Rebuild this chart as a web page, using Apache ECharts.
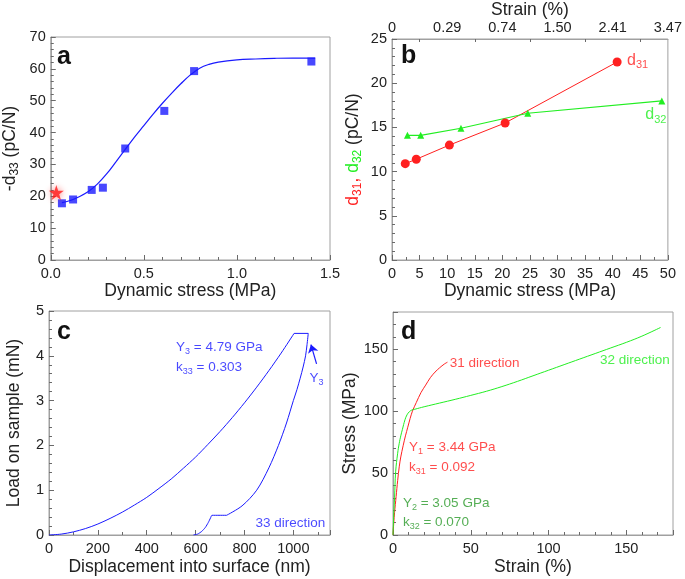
<!DOCTYPE html>
<html><head><meta charset="utf-8">
<script src="https://cdn.jsdelivr.net/npm/echarts@6/dist/echarts.min.js"></script>
<style>html,body{margin:0;padding:0;background:#fff}#c{width:685px;height:579px}</style>
</head><body><div id="c"></div><script>
// ---------- Panel a ----------
const aStress = [0.06, 0.12, 0.22, 0.28, 0.40, 0.61, 0.77, 1.40];
const aD33 = [17.8, 19.0, 22.0, 22.7, 35.0, 46.8, 59.3, 62.3];
const aStarStress = [0.03];
const aStarD33 = [21.2];
const aFitStress = [0.06, 0.10, 0.15, 0.20, 0.25, 0.30, 0.35, 0.40, 0.45, 0.50, 0.55, 0.60, 0.65, 0.70, 0.75, 0.80, 0.85, 0.90, 1.00, 1.10, 1.20, 1.30, 1.42];
const aFitD33 = [18.0, 18.6, 19.8, 21.4, 23.8, 27.0, 30.8, 34.7, 38.6, 42.2, 45.8, 49.2, 52.4, 55.4, 58.1, 60.2, 61.4, 62.1, 62.8, 63.1, 63.3, 63.4, 63.4];
// ---------- Panel b ----------
const bD31Stress = [2.4, 4.4, 10.4, 20.5, 40.8];
const bD31 = [10.9, 11.4, 13.0, 15.5, 22.4];
const bD32Stress = [2.8, 5.2, 12.5, 24.6, 48.9];
const bD32 = [14.1, 14.1, 14.9, 16.6, 18.0];
const bStrainTickLabels = ['0', '0.29', '0.74', '1.50', '2.41', '3.47'];
// ---------- Panel c ----------
const cLoadDisp = [0, 50, 100, 150, 200, 250, 300, 350, 400, 450, 500, 550, 600, 650, 700, 750, 800, 850, 900, 950, 1003];
const cLoadForce = [0, 0.02, 0.07, 0.145, 0.245, 0.37, 0.51, 0.67, 0.84, 1.04, 1.25, 1.49, 1.74, 2.02, 2.31, 2.62, 2.95, 3.30, 3.67, 4.06, 4.5];
const cHoldDisp = [1003, 1061];
const cHoldForce = [4.5, 4.5];
const cUnloadUpperDisp = [1061, 1056, 1050, 1040, 1028, 1015, 1000, 972, 939, 900, 850, 790, 727];
const cUnloadUpperForce = [4.5, 4.25, 4.0, 3.75, 3.5, 3.25, 3.0, 2.5, 2.0, 1.5, 1.0, 0.65, 0.44];
const cUnloadLowerDisp = [727, 667, 661, 652, 640, 625, 608, 591];
const cUnloadLowerForce = [0.44, 0.44, 0.38, 0.28, 0.17, 0.08, 0.02, 0];
// ---------- Panel d ----------
const d31Strain = [0, 0.5, 1, 2, 3, 4, 5, 6.5, 8, 9.5, 11, 12.5, 15, 18, 21, 24, 27, 30, 33, 35];
const d31Stress = [0, 10, 18, 31, 44, 55, 63, 72, 80, 87, 94, 100, 107, 115, 121, 127, 131.5, 135, 138, 139.5];
const d32Strain = [0, 0.5, 1, 1.7, 3, 4, 5, 6, 7.7, 9, 10.5, 12, 14, 20, 30, 40, 50, 60, 70, 80, 90, 100, 110, 120, 130, 140, 150, 160, 172];
const d32Stress = [0, 17, 30, 51, 66, 74, 80, 85, 93, 97, 99.5, 100.8, 101.5, 103.5, 106.5, 109.5, 112.7, 116.0, 119.8, 124.0, 128.5, 133, 137.5, 142, 146.5, 151, 155.5, 160.5, 167.5];

const FONT = '"Liberation Sans", Arial, sans-serif';
const AX = '#a0a0a0';
const TICK = '#6a6a6a';
const TXT = '#222';
const BLUE = '#1a1aff', RED = '#ff2020', GREEN = '#22ee22', DGREEN = '#2a9a2a';
const zip = (xs, ys) => xs.map((x, i) => [x, ys[i]]);

function subRich(color, size) {
  const ss = Math.round(size * 0.7);
  return {
    m: {color: color, fontSize: size, fontFamily: FONT, lineHeight: size + 4, verticalAlign: 'middle'},
    s: {color: color, fontSize: ss, fontFamily: FONT, lineHeight: ss + 1, verticalAlign: 'bottom'}
  };
}

function clean(obj) {
  Object.keys(obj).forEach(k => {
    if (obj[k] === undefined) delete obj[k];
    else if (obj[k] && typeof obj[k] === 'object' && !Array.isArray(obj[k])) clean(obj[k]);
  });
  return obj;
}

function mkAxis(o) {
  return clean({
    type: 'value', gridIndex: o.grid, position: o.position,
    min: o.min, max: o.max, interval: o.interval,
    name: o.name, nameLocation: 'middle', nameGap: o.nameGap,
    nameTextStyle: {fontSize: 17.5, color: TXT, fontFamily: FONT, rich: o.rich},
    axisLine: {show: true, onZero: false, lineStyle: {color: AX}},
    axisTick: {show: o.tick !== false, inside: true, length: 5, lineStyle: {color: TICK}},
    minorTick: {show: true, splitNumber: o.minor || 2, length: 3, lineStyle: {color: TICK}},
    splitLine: {show: false},
    axisLabel: {color: TXT, fontSize: 14.5, fontFamily: FONT, margin: o.margin || 6,
      formatter: o.fmt || (v => String(v)), showMaxLabel: o.showMax}
  });
}

function note(xi, yi, x, y, text, color, size) {
  return {
    type: 'scatter', xAxisIndex: xi, yAxisIndex: yi, silent: true, symbolSize: 0,
    data: [[x, y]], z: 5,
    label: {show: true, position: 'right', distance: 0, formatter: text, rich: subRich(color, size || 13.5)}
  };
}

const grids = [
  {left: 50, top: 37, width: 280, height: 223},
  {left: 392, top: 37, width: 281, height: 223},
  {left: 49, top: 311, width: 281, height: 224},
  {left: 393, top: 312, width: 280, height: 223}
].map(g => Object.assign(g, {show: true, borderColor: AX, borderWidth: 1}));

const xAxes = [
  mkAxis({grid: 0, position: 'bottom', min: 0, max: 1.5, interval: 0.5, minor: 5, name: 'Dynamic stress (MPa)', nameGap: 21, margin: 6, fmt: v => v.toFixed(1)}),
  mkAxis({grid: 1, position: 'bottom', min: 0, max: 50, interval: 5, minor: 2, name: 'Dynamic stress (MPa)', nameGap: 21, margin: 6}),
  mkAxis({grid: 2, position: 'bottom', min: 0, max: 1150, interval: 200, minor: 2, name: 'Displacement into surface (nm)', nameGap: 23, margin: 6, showMax: false}),
  mkAxis({grid: 3, position: 'bottom', min: 0, max: 180, interval: 50, minor: 5, name: 'Strain (%)', nameGap: 23, margin: 6, showMax: false}),
  mkAxis({grid: 1, position: 'top', min: 0, max: 50, interval: 10, minor: 2, tick: false, name: 'Strain (%)', nameGap: 20, margin: 4,
    fmt: v => bStrainTickLabels[Math.round(v / 10)]})
];

const yRichA = subRich(TXT, 17.5);
const yRichB = {
  r: {color: RED, fontSize: 17.5, fontFamily: FONT, lineHeight: 21, verticalAlign: 'middle'},
  rs: {color: RED, fontSize: 12, fontFamily: FONT, lineHeight: 13, verticalAlign: 'bottom'},
  g: {color: GREEN, fontSize: 17.5, fontFamily: FONT, lineHeight: 21, verticalAlign: 'middle'},
  gs: {color: GREEN, fontSize: 12, fontFamily: FONT, lineHeight: 13, verticalAlign: 'bottom'},
  k: {color: TXT, fontSize: 17.5, fontFamily: FONT, lineHeight: 21, verticalAlign: 'middle'}
};

const yAxes = [
  mkAxis({grid: 0, position: 'left', min: 0, max: 70, interval: 10, minor: 5, name: '{m|-d}{s|33}{m| (pC/N)}', rich: yRichA, nameGap: 30, margin: 5}),
  mkAxis({grid: 1, position: 'left', min: 0, max: 25, interval: 5, minor: 5, name: '{r|d}{rs|31}{r|, }{g|d}{gs|32}{k| (pC/N)}', rich: yRichB, nameGap: 28, margin: 5}),
  mkAxis({grid: 2, position: 'left', min: 0, max: 5, interval: 1, minor: 5, name: 'Load on sample (mN)', nameGap: 26, margin: 5}),
  mkAxis({grid: 3, position: 'left', min: 0, max: 180, interval: 50, minor: 5, name: 'Stress (MPa)', nameGap: 34, margin: 5, showMax: false})
];

const STAR = 'path://M12 0 L14.9 8.6 L24 8.6 L16.6 14 L19.4 22.6 L12 17.3 L4.6 22.6 L7.4 14 L0 8.6 L9.1 8.6 Z';

const series = [
  // a
  {type: 'line', xAxisIndex: 0, yAxisIndex: 0, data: zip(aFitStress, aFitD33), smooth: 0.4, showSymbol: false,
    lineStyle: {color: BLUE, width: 1.2}},
  {type: 'scatter', xAxisIndex: 0, yAxisIndex: 0, data: zip(aStress, aD33), symbol: 'rect', symbolSize: 8,
    itemStyle: {color: BLUE}},
  {type: 'scatter', xAxisIndex: 0, yAxisIndex: 0, data: zip(aStarStress, aStarD33), symbol: STAR, symbolSize: 15,
    itemStyle: {color: '#ff1a1a', shadowBlur: 6, shadowColor: 'rgba(255,0,0,0.6)'}},
  // b
  {type: 'line', xAxisIndex: 1, yAxisIndex: 1, data: zip(bD31Stress, bD31), symbol: 'circle', symbolSize: 9,
    lineStyle: {color: RED, width: 1}, itemStyle: {color: RED}},
  {type: 'line', xAxisIndex: 1, yAxisIndex: 1, data: zip(bD32Stress, bD32), symbol: 'triangle', symbolSize: 7,
    lineStyle: {color: GREEN, width: 1.2}, itemStyle: {color: GREEN}},
  note(1, 1, 42.6, 22.6, '{m|d}{s|31}', RED, 16),
  note(1, 1, 45.9, 16.4, '{m|d}{s|32}', GREEN, 16),
  // c
  {type: 'line', xAxisIndex: 2, yAxisIndex: 2, data: zip(cLoadDisp, cLoadForce), smooth: 0.3, showSymbol: false,
    lineStyle: {color: BLUE, width: 1}},
  {type: 'line', xAxisIndex: 2, yAxisIndex: 2, data: zip(cHoldDisp, cHoldForce), showSymbol: false,
    lineStyle: {color: BLUE, width: 1}},
  {type: 'line', xAxisIndex: 2, yAxisIndex: 2, data: zip(cUnloadUpperDisp, cUnloadUpperForce), smooth: 0.3, showSymbol: false,
    lineStyle: {color: BLUE, width: 1},
    markLine: {silent: true, symbol: ['none', 'arrow'], symbolSize: 8, label: {show: false},
      lineStyle: {color: BLUE, width: 1.2, type: 'solid'},
      data: [[{coord: [1095, 3.82]}, {coord: [1072, 4.25]}]]}},
  {type: 'line', xAxisIndex: 2, yAxisIndex: 2, data: zip(cUnloadLowerDisp, cUnloadLowerForce), smooth: 0.2, showSymbol: false,
    lineStyle: {color: BLUE, width: 1}},
  note(2, 2, 520, 4.2, '{m|Y}{s|3}{m| = 4.79 GPa}', BLUE),
  note(2, 2, 520, 3.74, '{m|k}{s|33}{m| = 0.303}', BLUE),
  note(2, 2, 1066, 3.5, '{m|Y}{s|3}', BLUE),
  note(2, 2, 845, 0.27, '{m|33 direction}', BLUE),
  // d
  {type: 'line', xAxisIndex: 3, yAxisIndex: 3, data: zip(d31Strain, d31Stress), smooth: 0.3, showSymbol: false,
    lineStyle: {color: RED, width: 1}},
  {type: 'line', xAxisIndex: 3, yAxisIndex: 3, data: zip(d32Strain, d32Stress), smooth: 0.4, showSymbol: false,
    lineStyle: {color: GREEN, width: 1}},
  note(3, 3, 36.5, 138.5, '{m|31 direction}', RED),
  note(3, 3, 133, 141, '{m|32 direction}', GREEN),
  note(3, 3, 10.3, 71, '{m|Y}{s|1}{m| = 3.44 GPa}', RED),
  note(3, 3, 10.3, 55, '{m|k}{s|31}{m| = 0.092}', RED),
  note(3, 3, 6.4, 26, '{m|Y}{s|2}{m| = 3.05 GPa}', DGREEN),
  note(3, 3, 6.4, 10, '{m|k}{s|32}{m| = 0.070}', DGREEN)
];

const letters = [['a', 57, 45], ['b', 401, 44], ['c', 57, 320], ['d', 401, 320]].map(([t, x, y]) => ({
  type: 'text', left: x, top: y, z: 10,
  style: {text: t, fontSize: 25, fontWeight: 'bold', fontFamily: FONT, fill: '#111'}
}));

const chart = echarts.init(document.getElementById('c'), null, {renderer: 'canvas'});
chart.setOption({
  animation: false,
  backgroundColor: '#fff',
  grid: grids, xAxis: xAxes, yAxis: yAxes, series: series,
  graphic: letters
});
</script></body></html>
